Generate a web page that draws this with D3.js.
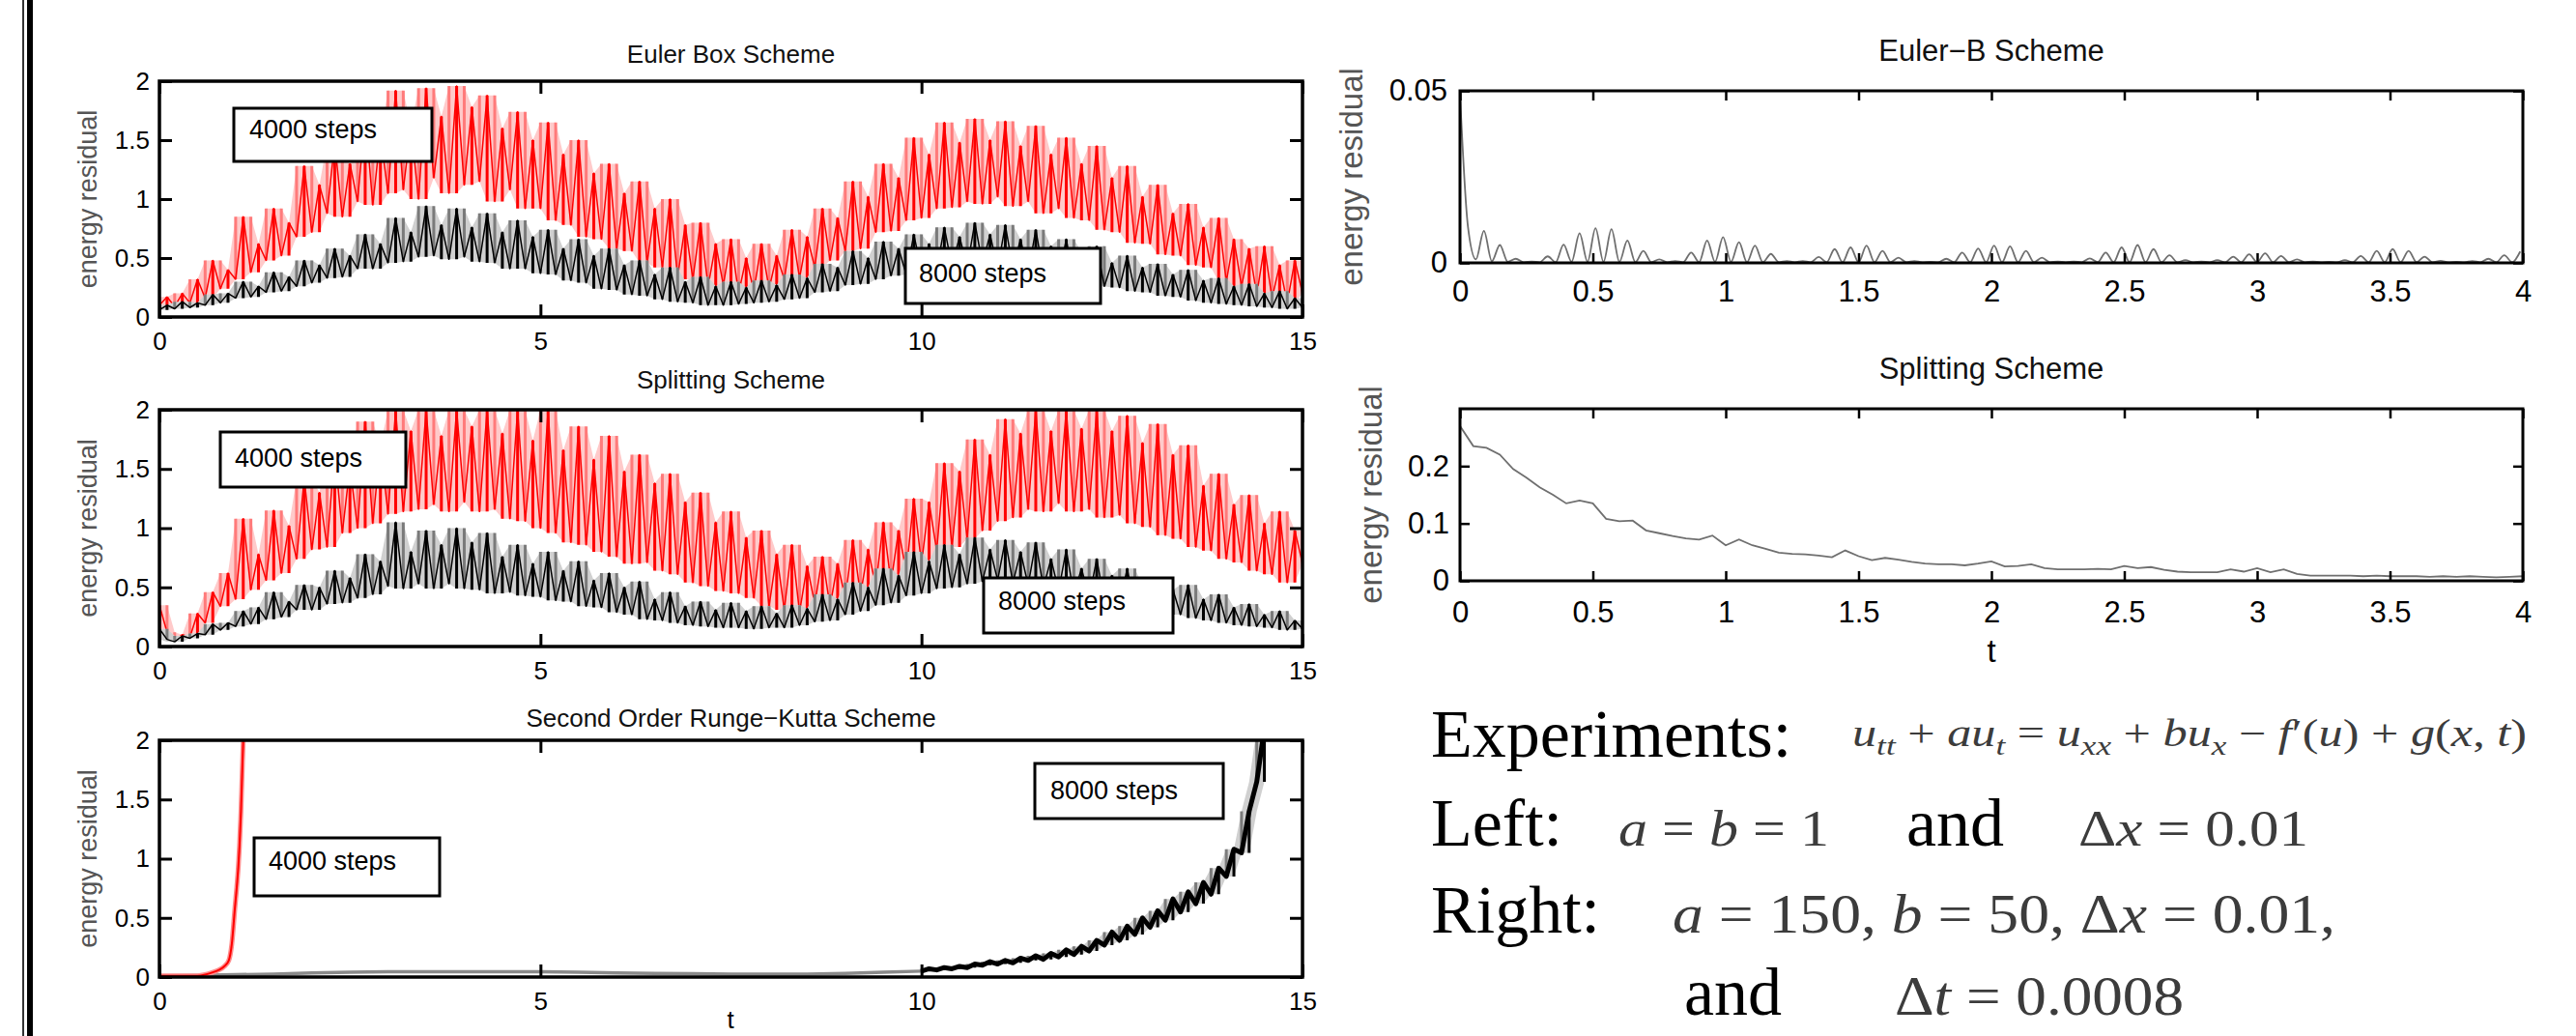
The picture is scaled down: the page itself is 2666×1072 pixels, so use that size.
<!DOCTYPE html>
<html lang="en">
<head>
<meta charset="UTF-8">
<title>Energy residual of the schemes</title>
<script src="https://d3js.org/d3.v7.min.js"></script>
<style>
  body { margin: 0; background: #fff; }
  svg text { font-family: "Liberation Sans", Arial, sans-serif; }
</style>
</head>
<body>
<svg id="chart" width="2666" height="1072"></svg>
<script>
// ---- ticks ----
const leftXTicks = [0, 5, 10, 15];
const leftYTicks = [0, 0.5, 1, 1.5, 2];
const rightXTicks = [0, 0.5, 1, 1.5, 2, 2.5, 3, 3.5, 4];
const eulerBYTicks = [0, 0.05];
const splitRYTicks = [0, 0.1, 0.2];

const leftStep = 0.1;
const eulerBox4000 = [
  0.10, 0.17, 0.09, 0.20, 0.12, 0.32, 0.16, 0.48, 0.24, 0.40,
  0.32, 0.85, 0.38, 0.62, 0.48, 0.92, 0.52, 0.80, 0.68, 1.28,
  0.72, 1.12, 0.88, 1.48, 0.85, 1.30, 0.98, 1.72, 0.95, 1.55,
  1.05, 1.92, 1.08, 1.62, 1.00, 1.94, 1.18, 1.70, 1.05, 1.96,
  1.12, 1.78, 1.15, 1.88, 0.98, 1.60, 1.08, 1.74, 0.92, 1.50,
  0.92, 1.65, 0.82, 1.38, 0.78, 1.50, 0.68, 1.22, 0.66, 1.30,
  0.58, 1.05, 0.56, 1.15, 0.46, 0.92, 0.42, 1.00, 0.34, 0.78,
  0.32, 0.80, 0.26, 0.62, 0.27, 0.66, 0.20, 0.50, 0.22, 0.62,
  0.24, 0.52, 0.32, 0.74, 0.33, 0.68, 0.42, 0.92, 0.48, 0.84,
  0.56, 1.15, 0.58, 1.02, 0.72, 1.30, 0.73, 1.18, 0.82, 1.52,
  0.84, 1.38, 0.92, 1.65, 0.93, 1.48, 0.98, 1.68, 0.96, 1.50,
  1.02, 1.66, 0.94, 1.45, 0.98, 1.62, 0.88, 1.38, 0.92, 1.52,
  0.84, 1.30, 0.82, 1.45, 0.74, 1.18, 0.72, 1.28, 0.63, 1.02,
  0.62, 1.12, 0.53, 0.88, 0.52, 0.96, 0.44, 0.76, 0.42, 0.84,
  0.30, 0.66, 0.26, 0.58, 0.19, 0.60, 0.16, 0.44, 0.12, 0.48,
  0.20
];
const eulerBox8000 = [
  0.06, 0.10, 0.07, 0.13, 0.08, 0.12, 0.10, 0.19, 0.12, 0.20,
  0.16, 0.30, 0.17, 0.26, 0.21, 0.38, 0.22, 0.34, 0.26, 0.48,
  0.29, 0.44, 0.33, 0.58, 0.34, 0.52, 0.41, 0.70, 0.41, 0.62,
  0.46, 0.84, 0.47, 0.72, 0.51, 0.94, 0.52, 0.78, 0.49, 0.92,
  0.51, 0.76, 0.47, 0.88, 0.46, 0.72, 0.41, 0.82, 0.41, 0.68,
  0.37, 0.74, 0.36, 0.58, 0.31, 0.66, 0.29, 0.52, 0.24, 0.58,
  0.23, 0.44, 0.19, 0.48, 0.18, 0.36, 0.15, 0.42, 0.13, 0.30,
  0.12, 0.34, 0.10, 0.26, 0.10, 0.30, 0.11, 0.25, 0.12, 0.31,
  0.13, 0.27, 0.15, 0.36, 0.16, 0.33, 0.21, 0.45, 0.22, 0.42,
  0.27, 0.56, 0.28, 0.50, 0.32, 0.64, 0.35, 0.58, 0.36, 0.70,
  0.39, 0.62, 0.40, 0.76, 0.43, 0.68, 0.42, 0.80, 0.45, 0.70,
  0.41, 0.78, 0.41, 0.66, 0.37, 0.74, 0.37, 0.60, 0.33, 0.66,
  0.31, 0.55, 0.28, 0.60, 0.26, 0.46, 0.25, 0.52, 0.22, 0.42,
  0.21, 0.45, 0.18, 0.36, 0.17, 0.40, 0.14, 0.31, 0.12, 0.33,
  0.11, 0.26, 0.10, 0.28, 0.09, 0.20, 0.08, 0.22, 0.07, 0.16,
  0.08
];
const splitting4000 = [
  0.35, 0.12, 0.05, 0.10, 0.08, 0.28, 0.20, 0.46, 0.34, 0.62,
  0.40, 1.08, 0.48, 0.78, 0.56, 1.15, 0.62, 1.02, 0.74, 1.42,
  0.82, 1.30, 0.84, 1.65, 0.96, 1.52, 1.00, 1.90, 1.04, 1.70,
  1.12, 2.00, 1.14, 1.82, 1.16, 2.00, 1.20, 1.78, 1.14, 2.00,
  1.22, 1.86, 1.14, 2.00, 1.16, 1.80, 1.08, 2.00, 1.06, 1.74,
  1.00, 2.00, 0.96, 1.66, 0.88, 1.86, 0.86, 1.58, 0.80, 1.78,
  0.76, 1.48, 0.70, 1.62, 0.71, 1.38, 0.64, 1.46, 0.61, 1.22,
  0.54, 1.30, 0.51, 1.05, 0.47, 1.14, 0.45, 0.92, 0.41, 0.98,
  0.34, 0.78, 0.31, 0.86, 0.29, 0.68, 0.36, 0.76, 0.34, 0.70,
  0.41, 0.90, 0.44, 0.82, 0.51, 1.05, 0.54, 0.98, 0.63, 1.25,
  0.70, 1.22, 0.81, 1.55, 0.84, 1.48, 0.91, 1.75, 0.98, 1.62,
  1.06, 1.92, 1.09, 1.80, 1.16, 2.00, 1.14, 1.82, 1.21, 2.00,
  1.14, 1.84, 1.16, 2.00, 1.09, 1.82, 1.11, 1.95, 1.04, 1.72,
  1.01, 1.88, 0.94, 1.62, 0.91, 1.70, 0.84, 1.36, 0.81, 1.46,
  0.74, 1.20, 0.71, 1.28, 0.64, 1.04, 0.61, 1.14, 0.54, 0.98,
  0.70
];
const splitting8000 = [
  0.15, 0.06, 0.04, 0.09, 0.07, 0.11, 0.10, 0.19, 0.14, 0.20,
  0.17, 0.30, 0.19, 0.33, 0.23, 0.46, 0.25, 0.38, 0.31, 0.52,
  0.31, 0.50, 0.36, 0.64, 0.37, 0.58, 0.41, 0.78, 0.44, 0.72,
  0.51, 1.05, 0.49, 0.80, 0.53, 0.98, 0.49, 0.86, 0.53, 1.00,
  0.49, 0.88, 0.48, 0.96, 0.45, 0.76, 0.46, 0.86, 0.43, 0.70,
  0.42, 0.80, 0.39, 0.64, 0.38, 0.72, 0.34, 0.56, 0.33, 0.62,
  0.29, 0.50, 0.27, 0.55, 0.23, 0.40, 0.22, 0.46, 0.20, 0.34,
  0.18, 0.38, 0.17, 0.31, 0.16, 0.37, 0.16, 0.30, 0.15, 0.34,
  0.16, 0.28, 0.16, 0.35, 0.18, 0.32, 0.21, 0.44, 0.22, 0.40,
  0.27, 0.54, 0.30, 0.50, 0.35, 0.66, 0.37, 0.60, 0.43, 0.80,
  0.45, 0.72, 0.49, 0.86, 0.50, 0.78, 0.53, 0.92, 0.55, 0.82,
  0.56, 0.90, 0.54, 0.80, 0.52, 0.88, 0.50, 0.74, 0.47, 0.82,
  0.44, 0.66, 0.41, 0.74, 0.38, 0.60, 0.36, 0.66, 0.32, 0.52,
  0.31, 0.58, 0.28, 0.48, 0.27, 0.52, 0.24, 0.40, 0.22, 0.44,
  0.20, 0.33, 0.18, 0.36, 0.17, 0.27, 0.16, 0.30, 0.14, 0.22,
  0.15
];

// Runge-Kutta: 4000 steps blows up just after t = 1
const rk4000T = [0, 0.3, 0.5, 0.6, 0.7, 0.78, 0.85, 0.91, 0.95, 0.99, 1.02, 1.035, 1.05, 1.07, 1.09, 1.10];
const rk4000V = [0.01, 0.01, 0.01, 0.02, 0.04, 0.06, 0.09, 0.14, 0.28, 0.58, 0.8, 0.93, 1.1, 1.4, 1.81, 2.0];
// 8000 steps: quiet part, then every 0.1 from t = 10
const rk8000EarlyT = [0, 0.5, 1, 1.5, 2, 2.5, 3, 3.5, 4, 4.5, 5, 5.5, 6, 6.5, 7, 7.5, 8, 8.5, 9, 9.5, 10];
const rk8000EarlyV = [0.01, 0.015, 0.02, 0.025, 0.035, 0.04, 0.045, 0.045, 0.045, 0.045, 0.045, 0.04, 0.035, 0.03, 0.028, 0.025, 0.025, 0.025, 0.03, 0.04, 0.05];
const rk8000LateStart = 10;
const rk8000LateV = [
  0.05, 0.07, 0.06, 0.08, 0.07, 0.09, 0.08, 0.11, 0.10, 0.13,
  0.11, 0.14, 0.12, 0.16, 0.14, 0.18, 0.15, 0.20, 0.17, 0.23,
  0.19, 0.26, 0.22, 0.31, 0.27, 0.38, 0.31, 0.43, 0.36, 0.50,
  0.42, 0.56, 0.48, 0.66, 0.55, 0.72, 0.62, 0.80, 0.70, 0.92,
  0.85, 1.08, 1.05, 1.40, 1.65, 2.10
];

// ---- right panels ----
const eulerBStep = 0.03;
const eulerBV = [
  0.049, 0.0105, 0.001, 0.0093, 0.0005, 0.0052, 0.0003, 0.0012, 0.0002, 0.0004,
  0.0002, 0.0019, 0.0002, 0.0053, 0.0003, 0.0086, 0.0003, 0.0101, 0.0003, 0.0098,
  0.0003, 0.0065, 0.0002, 0.0035, 0.0002, 0.0010, 0.0002, 0.0005, 0.0002, 0.0030,
  0.0002, 0.0065, 0.0003, 0.0075, 0.0003, 0.0060, 0.0002, 0.0050, 0.0002, 0.0026,
  0.0002, 0.0005, 0.0002, 0.0005, 0.0002, 0.0017, 0.0002, 0.0040, 0.0002, 0.0045,
  0.0002, 0.0050, 0.0002, 0.0035, 0.0002, 0.0015, 0.0002, 0.0005, 0.0002, 0.0003,
  0.0002, 0.0012, 0.0002, 0.0030, 0.0002, 0.0042, 0.0002, 0.0050, 0.0002, 0.0048,
  0.0002, 0.0035, 0.0002, 0.0015, 0.0002, 0.0004, 0.0002, 0.0004, 0.0002, 0.0013,
  0.0002, 0.0030, 0.0002, 0.0045, 0.0002, 0.0052, 0.0002, 0.0040, 0.0002, 0.0022,
  0.0002, 0.0008, 0.0002, 0.0004, 0.0002, 0.0008, 0.0002, 0.0018, 0.0002, 0.0025,
  0.0002, 0.0028, 0.0002, 0.0020, 0.0002, 0.0010, 0.0002, 0.0004, 0.0002, 0.0003,
  0.0002, 0.0008, 0.0002, 0.0020, 0.0002, 0.0035, 0.0002, 0.0040, 0.0002, 0.0035,
  0.0002, 0.0018, 0.0002, 0.0006, 0.0002, 0.0003, 0.0002, 0.0005, 0.0002, 0.0012,
  0.0002, 0.0022, 0.0002, 0.0033
];
const splitRStep = 0.05;
const splitRV = [
  0.270, 0.235, 0.232, 0.220, 0.195, 0.180, 0.163, 0.150, 0.135, 0.140,
  0.135, 0.108, 0.104, 0.105, 0.088, 0.083, 0.078, 0.074, 0.072, 0.079,
  0.062, 0.072, 0.062, 0.056, 0.049, 0.047, 0.046, 0.044, 0.041, 0.053,
  0.043, 0.036, 0.040, 0.037, 0.033, 0.030, 0.029, 0.029, 0.027, 0.030,
  0.034, 0.025, 0.026, 0.029, 0.022, 0.020, 0.020, 0.020, 0.021, 0.020,
  0.026, 0.022, 0.024, 0.019, 0.016, 0.015, 0.015, 0.015, 0.020, 0.016,
  0.022, 0.015, 0.020, 0.012, 0.009, 0.009, 0.009, 0.009, 0.008, 0.009,
  0.008, 0.008, 0.008, 0.007, 0.008, 0.007, 0.008, 0.007, 0.006, 0.007,
  0.008
];

const svg = d3.select('#chart');
const W = 2666, H = 1072;
let clipCount = 0;

// double rule on the far left
svg.append('rect').attr('x', 23).attr('y', 0).attr('width', 2).attr('height', H).attr('fill', '#333');
svg.append('rect').attr('x', 28).attr('y', 0).attr('width', 6).attr('height', H).attr('fill', '#000');

function makePanel(o) {
  const x = d3.scaleLinear().domain(o.xDomain).range([o.x0, o.x1]);
  const y = d3.scaleLinear().domain(o.yDomain).range([o.y1, o.y0]);
  const id = 'clip' + (clipCount++);
  svg.append('clipPath').attr('id', id).append('rect')
    .attr('x', o.x0).attr('y', o.y0).attr('width', o.x1 - o.x0).attr('height', o.y1 - o.y0);
  const plot = svg.append('g').attr('clip-path', `url(#${id})`);
  return { x, y, plot, o };
}

function styleAxis(g, fs, sw) {
  g.select('.domain').remove();
  g.selectAll('.tick line').attr('stroke', '#000').attr('stroke-width', sw);
  g.selectAll('.tick text').attr('fill', '#000').attr('font-size', fs);
  g.attr('font-family', null).attr('font-size', null);
}

function drawFrame(p) {
  const { x, y, o } = p;
  const g = svg.append('g');
  const bottom = g.append('g').attr('transform', `translate(0,${o.y1})`)
    .call(d3.axisBottom(x).tickValues(o.xTicks).tickSize(-o.tick).tickPadding(o.xPad).tickFormat(String));
  styleAxis(bottom, o.fs, o.tickW);
  const top = g.append('g').attr('transform', `translate(0,${o.y0})`)
    .call(d3.axisTop(x).tickValues(o.xTicks).tickSize(-o.tick).tickFormat(''));
  styleAxis(top, o.fs, o.tickW);
  const left = g.append('g').attr('transform', `translate(${o.x0},0)`)
    .call(d3.axisLeft(y).tickValues(o.yTicks).tickSize(-o.tick).tickPadding(o.yPad).tickFormat(String));
  styleAxis(left, o.fs, o.tickW);
  const right = g.append('g').attr('transform', `translate(${o.x1},0)`)
    .call(d3.axisRight(y).tickValues(o.yTicks).tickSize(-o.tick).tickFormat(''));
  styleAxis(right, o.fs, o.tickW);
  g.append('rect').attr('x', o.x0).attr('y', o.y0).attr('width', o.x1 - o.x0).attr('height', o.y1 - o.y0)
    .attr('fill', 'none').attr('stroke', '#000').attr('stroke-width', o.frameW);
  // title
  svg.append('text').attr('x', (o.x0 + o.x1) / 2).attr('y', o.titleY).attr('text-anchor', 'middle')
    .attr('font-size', o.titleFs).attr('fill', '#111').text(o.title);
  // y label
  const cy = (o.y0 + o.y1) / 2;
  svg.append('text').attr('transform', `translate(${o.ylabX},${cy}) rotate(-90)`).attr('text-anchor', 'middle')
    .attr('font-size', o.ylabFs).attr('fill', '#555').text('energy residual');
}

// dense oscillating trace: pale fill between neighbours, pale/dark vertical strokes, thin trace
function noisy(p, vals, tOf, c, traceW = 1.5) {
  const pts = vals.map((v, i) => {
    const w = vals.slice(Math.max(0, i - 1), i + 2);
    const avg = (w[0] + w[w.length - 1]) / 2;
    return { t: tOf(i), v, lo: d3.min(w), hi: d3.max(w), peak: v >= avg };
  });
  const X = d => p.x(d.t);
  p.plot.append('path').datum(pts)
    .attr('d', d3.area().x(X).y0(d => p.y(d.lo)).y1(d => p.y(d.hi)))
    .attr('fill', c.pale);
  p.plot.append('path')
    .attr('d', pts.filter(d => !d.peak).map(d => `M${X(d)},${p.y(d.v)}V${p.y(d.hi)}`).join(''))
    .attr('stroke', c.mid).attr('stroke-width', 3);
  p.plot.append('path')
    .attr('d', pts.filter(d => d.peak).map(d => `M${X(d)},${p.y(d.lo)}V${p.y(d.v)}`).join(''))
    .attr('stroke', c.dark).attr('stroke-width', 3);
  p.plot.append('path').datum(pts)
    .attr('d', d3.line().x(X).y(d => p.y(d.v)))
    .attr('fill', 'none').attr('stroke', c.dark).attr('stroke-width', traceW).attr('stroke-linejoin', 'round');
}

function legendBox(b) {
  svg.append('rect').attr('x', b.x0).attr('y', b.y0).attr('width', b.x1 - b.x0).attr('height', b.y1 - b.y0)
    .attr('fill', '#fff').attr('stroke', '#000').attr('stroke-width', 3);
  svg.append('text').attr('x', b.tx).attr('y', b.ty).attr('font-size', 27).attr('fill', '#000').text(b.label);
}

const leftCommon = {
  x0: 165, x1: 1348, xDomain: [0, 15], yDomain: [0, 2], xTicks: leftXTicks, yTicks: leftYTicks,
  tick: 13, tickW: 3, frameW: 3.5, fs: 26, xPad: 16, yPad: 10, titleFs: 26, ylabX: 100, ylabFs: 27
};
const REDS = { dark: '#ff0000', mid: '#ff7a7a', pale: '#ffcaca' };
const BLACKS = { dark: '#000000', mid: '#7a7a7a', pale: '#d0d0d0' };

// Euler Box
const p1 = makePanel({ ...leftCommon, y0: 84, y1: 328, title: 'Euler Box Scheme', titleY: 65 });
noisy(p1, eulerBox4000, i => i * leftStep, REDS);
noisy(p1, eulerBox8000, i => i * leftStep, BLACKS);
drawFrame(p1);
legendBox({ x0: 242, x1: 447, y0: 112, y1: 167, tx: 258, ty: 143, label: '4000 steps' });
legendBox({ x0: 937, x1: 1139, y0: 257, y1: 314, tx: 951, ty: 292, label: '8000 steps' });

// Splitting
const p2 = makePanel({ ...leftCommon, y0: 424, y1: 669, title: 'Splitting Scheme', titleY: 402 });
noisy(p2, splitting4000, i => i * leftStep, REDS);
noisy(p2, splitting8000, i => i * leftStep, BLACKS);
drawFrame(p2);
legendBox({ x0: 228, x1: 420, y0: 447, y1: 504, tx: 243, ty: 483, label: '4000 steps' });
legendBox({ x0: 1018, x1: 1214, y0: 598, y1: 655, tx: 1033, ty: 631, label: '8000 steps' });

// Runge-Kutta
const p3 = makePanel({ ...leftCommon, y0: 766, y1: 1011, title: 'Second Order Runge\u2212Kutta Scheme', titleY: 752 });
const rkLine = d3.line().x(d => p3.x(d[0])).y(d => p3.y(d[1]));
p3.plot.append('path').datum(rk8000EarlyT.map((t, i) => [t, rk8000EarlyV[i]])).attr('d', rkLine)
  .attr('fill', 'none').attr('stroke', '#8a8a8a').attr('stroke-width', 3.5);
noisy(p3, rk8000LateV, i => rk8000LateStart + i * 0.1, BLACKS, 5);
const rkSmooth = d3.line().x(d => p3.x(d[0])).y(d => p3.y(d[1])).curve(d3.curveMonotoneX);
const rk4000 = rk4000T.map((t, i) => [t, rk4000V[i]]);
p3.plot.append('path').datum(rk4000).attr('d', rkSmooth)
  .attr('fill', 'none').attr('stroke', '#ff8c8c').attr('stroke-width', 5);
p3.plot.append('path').datum(rk4000).attr('d', rkSmooth)
  .attr('fill', 'none').attr('stroke', '#ff0000').attr('stroke-width', 2);
drawFrame(p3);
legendBox({ x0: 263, x1: 455, y0: 867, y1: 927, tx: 278, ty: 900, label: '4000 steps' });
legendBox({ x0: 1071, x1: 1266, y0: 790, y1: 847, tx: 1087, ty: 827, label: '8000 steps' });
svg.append('text').attr('x', 756).attr('y', 1064).attr('text-anchor', 'middle').attr('font-size', 26).text('t');

// right column
const rightCommon = {
  x0: 1511, x1: 2611, xDomain: [0, 4], xTicks: rightXTicks,
  tick: 10, tickW: 2.5, frameW: 3, fs: 31, titleFs: 31, ylabFs: 33
};
const r1 = makePanel({ ...rightCommon, y0: 94, y1: 272, yDomain: [0, 0.05], yTicks: eulerBYTicks,
  xPad: 18, yPad: 13, title: 'Euler\u2212B Scheme', titleY: 63, ylabX: 1410 });
r1.plot.append('path').datum(eulerBV)
  .attr('d', d3.line().x((d, i) => r1.x(i * eulerBStep)).y(d => r1.y(d)).curve(d3.curveMonotoneX))
  .attr('fill', 'none').attr('stroke', '#6f6f6f').attr('stroke-width', 1.8);
drawFrame(r1);

const r2 = makePanel({ ...rightCommon, y0: 423, y1: 601, yDomain: [0, 0.3], yTicks: splitRYTicks,
  xPad: 21, yPad: 11, title: 'Splitting Scheme', titleY: 392, ylabX: 1430 });
r2.plot.append('path').datum(splitRV)
  .attr('d', d3.line().x((d, i) => r2.x(i * splitRStep)).y(d => r2.y(d)))
  .attr('fill', 'none').attr('stroke', '#6f6f6f').attr('stroke-width', 1.8);
drawFrame(r2);
svg.append('text').attr('x', 2061).attr('y', 685).attr('text-anchor', 'middle').attr('font-size', 33).text('t');

// ---- experiment description ----
const serif = '"Liberation Serif", "Times New Roman", serif';
function word(txt, x, y) {
  svg.append('text').attr('x', x).attr('y', y).style('font-family', serif).attr('font-size', 70)
    .attr('fill', '#000').text(txt);
}
function math(parts, x, y, size, width) {
  const t = svg.append('text').attr('x', x).attr('y', y).style('font-family', serif).attr('font-size', size)
    .attr('fill', '#3c3c3c').attr('textLength', width).attr('lengthAdjust', 'spacingAndGlyphs');
  let low = false;
  parts.forEach(p => {
    const s = t.append('tspan').text(p[0]);
    if (p[1] && p[1].includes('i')) s.attr('font-style', 'italic');
    const sub = p[1] && p[1].includes('s');
    if (sub) s.attr('font-size', size * 0.7);
    if (sub && !low) { s.attr('dy', size * 0.22); low = true; }
    else if (!sub && low) { s.attr('dy', -size * 0.22); low = false; }
  });
}

word('Experiments:', 1481, 783);
math([['u', 'i'], ['tt', 'is'], [' + '], ['au', 'i'], ['t', 'is'], [' = '], ['u', 'i'], ['xx', 'is'], [' + '],
  ['bu', 'i'], ['x', 'is'], [' \u2212 '], ['f', 'i'], ['\u2032('], ['u', 'i'], [') + '], ['g', 'i'], ['('],
  ['x', 'i'], [', '], ['t', 'i'], [')']], 1917, 772, 40, 698);

word('Left:', 1481, 875);
math([['a', 'i'], [' = '], ['b', 'i'], [' = 1']], 1675, 875, 52, 218);
word('and', 1973, 875);
math([['\u0394'], ['x', 'i'], [' = 0.01']], 2151, 875, 52, 238);

word('Right:', 1481, 965);
math([['a', 'i'], [' = 150, '], ['b', 'i'], [' = 50, \u0394'], ['x', 'i'], [' = 0.01,']], 1731, 965, 56, 686);
word('and', 1743, 1050);
math([['\u0394'], ['t', 'i'], [' = 0.0008']], 1961, 1050, 58, 299);
</script>
</body>
</html>
